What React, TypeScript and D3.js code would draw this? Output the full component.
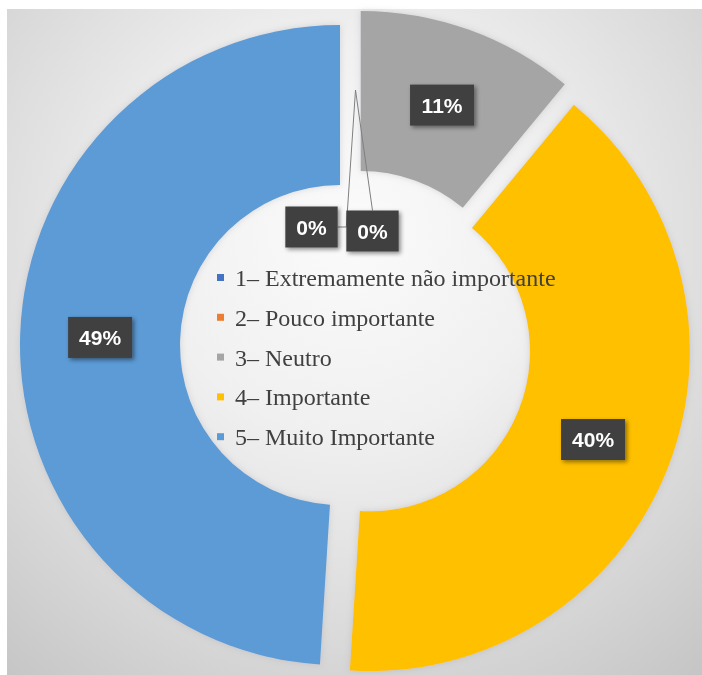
import React from "react";
import * as d3 from "d3";

const categories = [
  "1– Extremamente não importante",
  "2– Pouco importante",
  "3– Neutro",
  "4– Importante",
  "5– Muito Importante",
];
const values = [0, 0, 11, 40, 49];
const valueLabels = ["0%", "0%", "11%", "40%", "49%"];
const colors = ["#4472C4", "#ED7D31", "#A5A5A5", "#FFC000", "#5B9BD5"];

const W = 702;
const H = 675;
const CX = 355.5;
const CY = 345.5;
const R_OUT = 320;
const R_IN = 160;
const EXPLODE = 15.5;
// layout nudges for the crowded zero-value labels
const labelNudge: [number, number][] = [
  [-44, 137],
  [17, 141],
  [0, 0],
  [0, 0],
  [0, 0],
];

const LABEL_FONT = 21;
function textW(s: string) {
  let w = 0;
  for (const c of s) w += c === "%" ? 0.889 : 0.556;
  return w * LABEL_FONT;
}

export default function App() {
  const pie = d3
    .pie<number>()
    .sort(null)
    .value((d) => d)
    .startAngle(0)
    .endAngle(2 * Math.PI);
  const arcs = pie(values);
  const arc = d3.arc<d3.PieArcDatum<number>>().innerRadius(R_IN).outerRadius(R_OUT);
  const mid = (R_IN + R_OUT) / 2;
  const labelArc = d3.arc<d3.PieArcDatum<number>>().innerRadius(mid).outerRadius(mid);

  const slices = arcs.map((a, i) => {
    const m = (a.startAngle + a.endAngle) / 2;
    const dx = Math.sin(m) * EXPLODE;
    const dy = -Math.cos(m) * EXPLODE;
    const [lx, ly] = labelArc.centroid(a);
    const ax = CX + dx + lx;
    const ay = CY + dy + ly;
    const bx = ax + labelNudge[i][0];
    const by = ay + labelNudge[i][1];
    const bw = textW(valueLabels[i]) + 22;
    const bh = 41;
    return { a, i, dx, dy, ax, ay, bx, by, bw, bh };
  });

  const zero = slices.filter((s) => s.a.value === 0);
  const leftL = zero[0];
  const rightL = zero[1];

  const legendX = 217;
  const legendY0 = 286;
  const legendStep = 39.8;

  return (
    <svg
      width={W}
      height={H}
      style={{ position: "absolute", left: 0, top: 0, display: "block" }}
    >
      <defs>
        <radialGradient id="bg" gradientUnits="userSpaceOnUse" cx={350} cy={250} r={560} fx={350} fy={230}>
          <stop offset="0" stopColor="#fbfbfb" />
          <stop offset="0.35" stopColor="#f0f0f0" />
          <stop offset="0.7" stopColor="#dadada" />
          <stop offset="1" stopColor="#c4c4c4" />
        </radialGradient>
        <filter id="sliceShadow" x="-10%" y="-10%" width="120%" height="120%">
          <feDropShadow dx="0" dy="0" stdDeviation="3" floodColor="#9a9aaa" floodOpacity="0.35" />
        </filter>
        <filter id="boxShadow" x="-30%" y="-30%" width="160%" height="160%">
          <feDropShadow dx="2" dy="2" stdDeviation="2" floodColor="#000" floodOpacity="0.45" />
        </filter>
      </defs>
      <rect x={0} y={0} width={W} height={H} fill="#ffffff" />
      <rect x={7} y={9} width={W - 7} height={H - 9} fill="url(#bg)" />

      <g filter="url(#sliceShadow)">
        {slices.map((s) => (
          <path
            key={s.i}
            d={arc(s.a) || ""}
            transform={`translate(${CX + s.dx},${CY + s.dy})`}
            fill={colors[s.i]}
          />
        ))}
      </g>

      {leftL && rightL && (
        <g stroke="#7f7f7f" strokeWidth={1} fill="none">
          <polyline
            points={`${leftL.ax},${leftL.ay} ${rightL.bx - rightL.bw / 2},${leftL.by} ${leftL.bx + leftL.bw / 2},${leftL.by}`}
          />
          <line x1={rightL.ax} y1={rightL.ay} x2={rightL.bx} y2={rightL.by - rightL.bh / 2} />
        </g>
      )}

      {slices.map((s) => (
        <g key={s.i}>
          <rect
            x={s.bx - s.bw / 2}
            y={s.by - s.bh / 2}
            width={s.bw}
            height={s.bh}
            fill="#404040"
            filter="url(#boxShadow)"
          />
          <text
            x={s.bx}
            y={s.by + 7.5}
            textAnchor="middle"
            fill="#ffffff"
            fontFamily="'Liberation Sans', Arial, sans-serif"
            fontWeight="bold"
            fontSize={LABEL_FONT}
          >
            {valueLabels[s.i]}
          </text>
        </g>
      ))}

      {categories.map((c, i) => {
        const y = legendY0 + i * legendStep;
        return (
          <g key={c}>
            <rect x={legendX} y={y - 12} width={7} height={7} fill={colors[i]} />
            <text
              x={legendX + 18}
              y={y}
              fill="#404040"
              fontFamily="'Liberation Serif', 'Times New Roman', serif"
              fontSize={24}
            >
              {c}
            </text>
          </g>
        );
      })}
    </svg>
  );
}
